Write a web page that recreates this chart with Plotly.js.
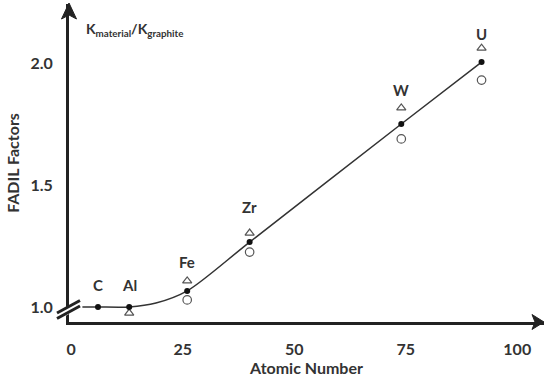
<!DOCTYPE html>
<html>
<head>
<meta charset="utf-8">
<script src="https://cdn.plot.ly/plotly-3.0.1.min.js"></script>
<style>html,body{margin:0;padding:0;background:#fff;}#chart{width:544px;height:380px;}</style>
</head>
<body>
<div id="chart"></div>
<script>
// Elements and atomic numbers
var elements = ["C", "Al", "Fe", "Zr", "W", "U"];
var atomicNumber = [6, 13, 26, 40, 74, 92];
var fadil = [1.0, 1.0, 1.066, 1.266, 1.75, 2.004];

// Fitted curve
var curveZ = [2.5, 6, 13, 19, 26, 40, 74, 92];
var curveY = [1.0, 1.0, 1.0, 1.016, 1.066, 1.266, 1.75, 2.004];

// Triangle markers
var triZ = [13, 26, 40, 74, 92];
var triY = [0.975, 1.107, 1.303, 1.816, 2.061];

// Open circle markers
var circZ = [26, 40, 74, 92];
var circY = [1.029, 1.225, 1.689, 1.930];

var xTicks = [0, 25, 50, 75, 100];
var yTicks = [1.0, 1.5, 2.0];

// label pixel offsets above points (style)
var labelShift = [22, 22, 29, 35, 34, 28];

var L = 69, R = 0, T = 4, B = 58, W = 544, H = 380;
var pw = W - L - R, ph = H - T - B;
function px(x){ return ((x - L) / pw).toFixed(5); }
function py(y){ return ((H - B - y) / ph).toFixed(5); }
function path(pts){
  return "M " + pts.map(function(p){ return px(p[0]) + "," + py(p[1]); }).join(" L ") + " Z";
}

var dark = "#222222";
var textCol = "#333333";
var fnt = "Lato, 'Open Sans', sans-serif";

var traces = [
  {x: curveZ, y: curveY, mode: "lines", line: {color: "#333", width: 1.5, shape: "spline", smoothing: 0.8}, hoverinfo: "skip"},
  {x: triZ, y: triY, mode: "markers", marker: {symbol: "triangle-up-open", size: 8, color: "#555", line: {width: 1.2}}},
  {x: circZ, y: circY, mode: "markers", marker: {symbol: "circle-open", size: 8.5, color: "#555", line: {width: 1.2}}},
  {x: atomicNumber, y: fadil, mode: "markers", marker: {symbol: "circle", size: 6, color: "#111"}}
];

var annotations = elements.map(function(el, i){
  return {x: atomicNumber[i], y: fadil[i], xref: "x", yref: "y", text: el, showarrow: false,
          yshift: labelShift[i], font: {family: fnt, size: 15, color: textCol, weight: 700}};
});
annotations.push({xref: "paper", yref: "paper", x: px(84), y: py(29), xanchor: "left", yanchor: "middle",
  text: "<b>K<sub>material</sub>/K<sub>graphite</sub></b>", showarrow: false,
  font: {family: fnt, size: 14, color: textCol}});

var shapes = [
  // y arrowhead
  {type: "path", xref: "paper", yref: "paper", path: path([[69,3],[76.5,19],[69,15],[61.5,19]]), fillcolor: dark, line: {color: dark, width: 1}},
  // x arrowhead
  {type: "path", xref: "paper", yref: "paper", path: path([[544,322],[532,314.5],[535,322],[532,329.5]]), fillcolor: dark, line: {color: dark, width: 1}},
  // white gap for axis break
  {type: "path", xref: "paper", yref: "paper", path: path([[60,311],[78,301],[78,309],[60,319]]), fillcolor: "#fff", line: {width: 0}},
  // break lines
  {type: "line", xref: "paper", yref: "paper", x0: px(57), y0: py(313), x1: px(80), y1: py(300.5), line: {color: dark, width: 3}},
  {type: "line", xref: "paper", yref: "paper", x0: px(57), y0: py(318.5), x1: px(80), y1: py(306), line: {color: dark, width: 3}}
];

var layout = {
  width: W, height: H,
  margin: {l: L, r: R, t: T, b: B},
  paper_bgcolor: "#fff", plot_bgcolor: "#fff",
  showlegend: false,
  font: {family: fnt, color: textCol},
  xaxis: {
    range: [-0.5, 106], showgrid: false, zeroline: false, showline: true, linewidth: 3, linecolor: dark,
    tickvals: xTicks, ticks: "", ticklabelstandoff: 11,
    tickfont: {family: fnt, size: 16, color: textCol, weight: 700},
    title: {text: "Atomic Number", font: {family: fnt, size: 16, color: textCol, weight: 700}, standoff: 3}
  },
  yaxis: {
    range: [0.9385, 2.242], showgrid: false, zeroline: false, showline: true, linewidth: 3, linecolor: dark,
    tickvals: yTicks, tickformat: ".1f", ticks: "", ticklabelstandoff: 10,
    tickfont: {family: fnt, size: 16, color: textCol, weight: 700},
    title: {text: "FADIL Factors", font: {family: fnt, size: 16, color: textCol, weight: 700}, standoff: 7}
  },
  annotations: annotations,
  shapes: shapes
};

Plotly.newPlot("chart", traces, layout, {displayModeBar: false, staticPlot: true});
</script>
</body>
</html>
